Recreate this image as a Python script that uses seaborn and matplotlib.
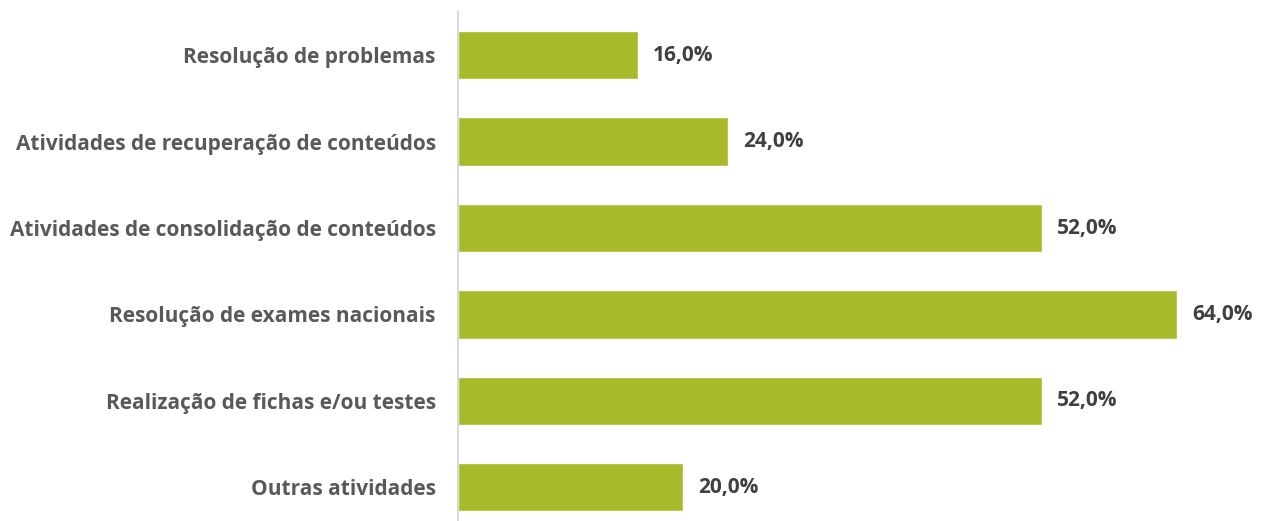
import matplotlib
matplotlib.use("Agg")
import matplotlib.pyplot as plt
import seaborn as sns
import pandas as pd

categories = [
    "Resolução de problemas",
    "Atividades de recuperação de conteúdos",
    "Atividades de consolidação de conteúdos",
    "Resolução de exames nacionais",
    "Realização de fichas e/ou testes",
    "Outras atividades",
]
values = [16.0, 24.0, 52.0, 64.0, 52.0, 20.0]

sns.set_style("white")
plt.rcParams['font.family'] = ['Open Sans', 'DejaVu Sans']

df = pd.DataFrame({"cat": categories, "val": values})

fig = plt.figure(figsize=(12.61, 5.21), dpi=100)
ax = fig.add_axes([458/1261, 0, 1 - 458/1261, 1 - 12/521])

sns.barplot(data=df, y="cat", x="val", orient="h", color="#A8B92A",
            saturation=1, width=0.56, ax=ax)

ax.set_xlim(0, 71.5)
ax.set_ylim(5.39, -0.5)
ax.set_xlabel("")
ax.set_ylabel("")
ax.set_xticks([])
for s in ["top", "right", "bottom"]:
    ax.spines[s].set_visible(False)
ax.spines["left"].set_color("#D9D9D9")
ax.spines["left"].set_linewidth(1.5)
ax.tick_params(axis="y", length=0, pad=16)
for lbl in ax.get_yticklabels():
    lbl.set_fontsize(15)
    lbl.set_fontweight("bold")
    lbl.set_color("#595959")

for i, v in enumerate(values):
    ax.annotate(f"{v:.1f}".replace(".", ",") + "%", xy=(v, i),
                xytext=(11, 0), textcoords="offset points",
                va="center", ha="left", fontsize=15, fontweight="bold",
                color="#404040")

fig.savefig("out.png", dpi=100)
